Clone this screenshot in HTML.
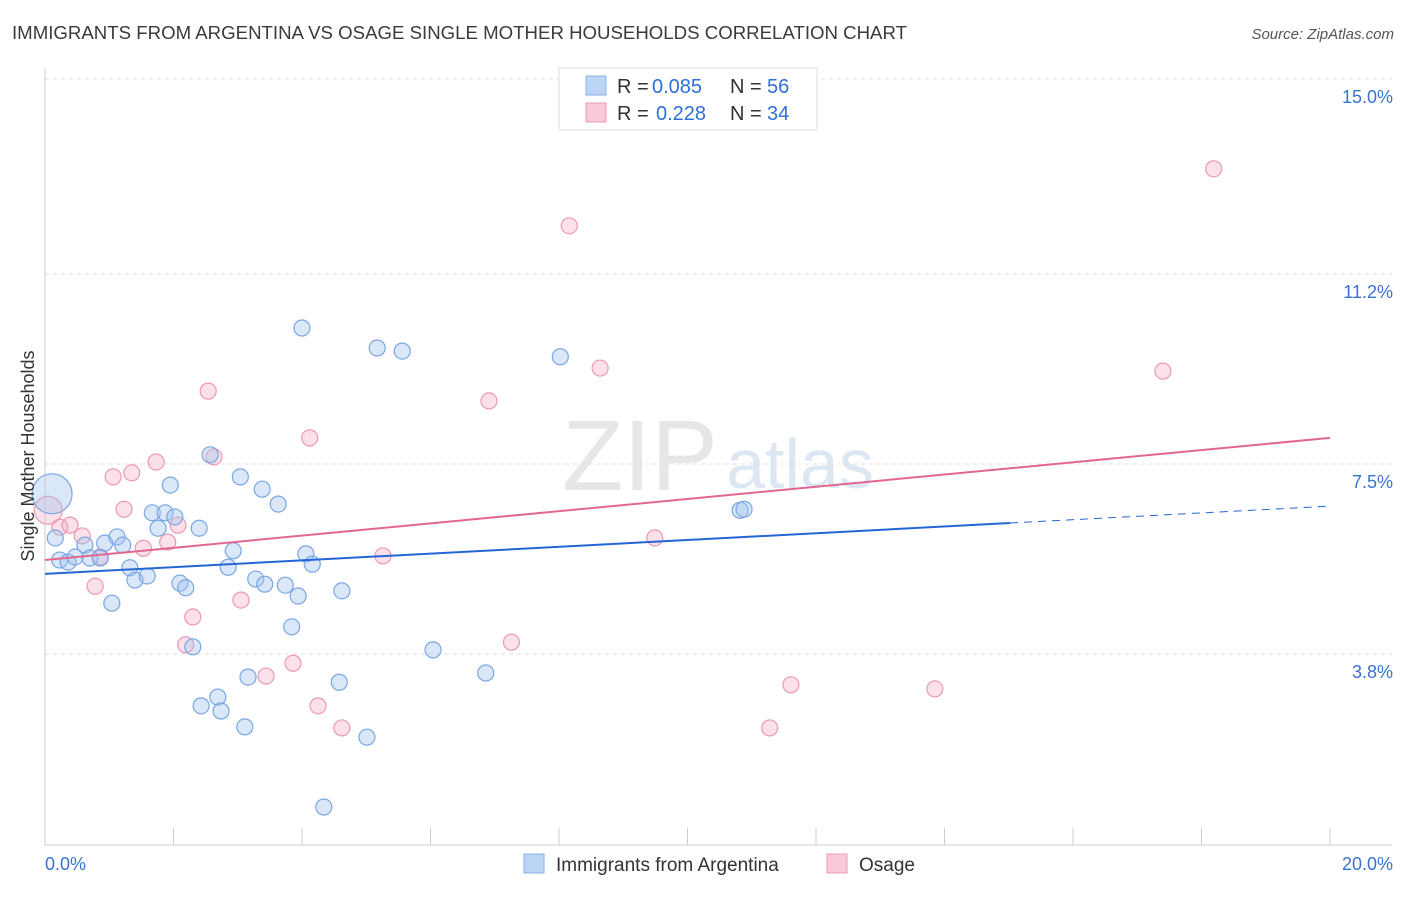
<!DOCTYPE html>
<html><head><meta charset="utf-8"><style>
body{margin:0;background:#fff;font-family:"Liberation Sans",sans-serif;}
svg text{font-family:"Liberation Sans",sans-serif;}
</style></head><body>
<svg id="chart" width="1406" height="892">
<text x="12" y="39" font-size="18" fill="#3a3a3a" textLength="895" lengthAdjust="spacingAndGlyphs">IMMIGRANTS FROM ARGENTINA VS OSAGE SINGLE MOTHER HOUSEHOLDS CORRELATION CHART</text>
<text x="1394" y="39" font-size="15" fill="#555" text-anchor="end" font-style="italic">Source: ZipAtlas.com</text>
<text x="640" y="490" font-size="100" fill="#e6e6e6" font-family="Liberation Serif" text-anchor="middle">ZIP</text>
<text x="800" y="488" font-size="70" fill="#dde6f3" text-anchor="middle">atlas</text>
<g id="grid"></g><g id="axes"></g><g id="marks"></g>
<text transform="translate(34,456) rotate(-90)" font-size="18" fill="#333" text-anchor="middle">Single Mother Households</text>
<g>
<rect x="559" y="68" width="258" height="62" fill="#fff" stroke="#ddd"/>
<rect x="586" y="76" width="20" height="19" fill="#bcd4f5" stroke="#8ab0e6"/>
<rect x="586" y="103" width="20" height="19" fill="#f9c9d8" stroke="#ee9ab5"/>
<text x="617" y="93" font-size="20" fill="#333">R =</text>
<text x="652" y="93" font-size="20" fill="#2f6fd6">0.085</text>
<text x="730" y="93" font-size="20" fill="#333">N =</text>
<text x="767" y="93" font-size="20" fill="#2f6fd6">56</text>
<text x="617" y="120" font-size="20" fill="#333">R =</text>
<text x="656" y="120" font-size="20" fill="#2f6fd6">0.228</text>
<text x="730" y="120" font-size="20" fill="#333">N =</text>
<text x="767" y="120" font-size="20" fill="#2f6fd6">34</text>
</g>
<g>
<rect x="524" y="854" width="20" height="19" fill="#bcd4f5" stroke="#8ab0e6"/>
<text x="556" y="871" font-size="19" fill="#333">Immigrants from Argentina</text>
<rect x="827" y="854" width="20" height="19" fill="#f9c9d8" stroke="#ee9ab5"/>
<text x="859" y="871" font-size="19" fill="#333">Osage</text>
</g>
</svg>
<script>
const yTicks=[3.8,7.5,11.2,15.0];
const yTickLabels=["3.8%","7.5%","11.2%","15.0%"];
const xTickCount=10;
const xMax=20;
const blueX=[.11,.16,.23,.36,.47,.62,.70,.86,.93,1.04,1.12,1.21,1.32,1.40,1.59,1.67,1.76,1.87,1.95,2.02,2.10,2.19,2.30,2.40,2.43,2.57,2.69,2.74,2.85,2.93,3.04,3.11,3.16,3.28,3.38,3.42,3.63,3.74,3.84,3.94,4.00,4.06,4.16,4.34,4.58,4.62,5.01,5.17,5.56,6.04,6.86,8.02,10.82,10.88];
const blueY=[6.92,6.06,5.63,5.59,5.69,5.92,5.67,5.67,5.96,4.79,6.08,5.92,5.48,5.24,5.32,6.55,6.25,6.55,7.09,6.47,5.18,5.09,3.94,6.25,2.79,7.68,2.96,2.69,5.49,5.81,7.25,2.38,3.35,5.26,7.01,5.16,6.72,5.14,4.33,4.93,10.15,5.75,5.55,0.82,3.25,5.03,2.18,9.76,9.70,3.88,3.43,9.59,6.60,6.62];
const pinkX=[.05,.23,.39,.58,.78,.86,1.06,1.23,1.35,1.53,1.73,1.91,2.07,2.30,2.19,2.54,2.63,3.05,3.44,3.86,4.12,4.25,4.62,5.26,6.91,7.26,8.16,8.64,9.49,11.28,11.61,13.85,17.40,18.19];
const pinkY=[6.60,6.27,6.31,6.10,5.12,5.69,7.25,6.62,7.33,5.86,7.54,5.98,6.31,4.52,3.98,8.92,7.64,4.85,3.37,3.62,8.01,2.79,2.36,5.71,8.73,4.03,12.14,9.37,6.06,2.36,3.20,3.12,9.31,13.25];
const blueTrend=[5.36,6.68];
const pinkTrend=[5.63,8.01];
const NS="http://www.w3.org/2000/svg";
const X0=45,X1=1330;
const sx=v=>X0+(X1-X0)*v/xMax;
const sy=v=>79+(15-v)*(654-79)/11.2;
function mk(tag,attrs,parent){const e=document.createElementNS(NS,tag);for(const k in attrs)e.setAttribute(k,attrs[k]);document.getElementById(parent).appendChild(e);return e;}
yTicks.forEach((t,i)=>{
 const l=mk('line',{x1:X0,x2:1392,y1:sy(t),y2:sy(t),stroke:'#ddd','stroke-dasharray':'4,4'},'grid');
 
 
 const tx=mk('text',{x:1393,y:sy(t)+24,'font-size':18,fill:'#3a72d0','text-anchor':'end'},'axes');
 tx.textContent=yTickLabels[i];
 
 
});
const ax=mk('line',{x1:X0,x2:X0,y1:68,y2:845,stroke:'#ccc'},'axes');


const bx=mk('line',{x1:X0,x2:1392,y1:845,y2:845,stroke:'#ccc'},'axes');


for(let i=0;i<=xTickCount;i++){
 const x=sx(i*xMax/xTickCount);
 const t=mk('line',{x1:x,x2:x,y1:828,y2:845,stroke:'#ccc'},'axes');
 
 
}
const xl=mk('text',{x:45,y:870,'font-size':18,fill:'#3a72d0'},'axes');xl.textContent='0.0%';


const xr=mk('text',{x:1393,y:870,'font-size':18,fill:'#3a72d0','text-anchor':'end'},'axes');xr.textContent='20.0%';


pinkX.forEach((v,i)=>{
 const c=mk('circle',{cx:sx(v),cy:sy(pinkY[i]),r:i===0?14:8,fill:'rgba(246,170,195,0.35)',stroke:'#ec98b4','stroke-width':1.2},'marks');
 
 
});
blueX.forEach((v,i)=>{
 const c=mk('circle',{cx:sx(v),cy:sy(blueY[i]),r:i===0?20:8,fill:'rgba(160,195,240,0.4)',stroke:'#7aa6e4','stroke-width':1.2},'marks');
 
 
});
const bEnd=15.02, bMid=blueTrend[0]+(blueTrend[1]-blueTrend[0])*bEnd/xMax;
const b1=mk('line',{x1:sx(0),y1:sy(blueTrend[0]),x2:sx(bEnd),y2:sy(bMid),stroke:'#2566d6','stroke-width':2},'marks');


const b2=mk('line',{x1:sx(bEnd),y1:sy(bMid),x2:sx(xMax),y2:sy(blueTrend[1]),stroke:'#2566d6','stroke-width':1,'stroke-dasharray':'8,6'},'marks');


const p1=mk('line',{x1:sx(0),y1:sy(pinkTrend[0]),x2:sx(xMax),y2:sy(pinkTrend[1]),stroke:'#e2678f','stroke-width':2},'marks');


</script>
</body></html>
